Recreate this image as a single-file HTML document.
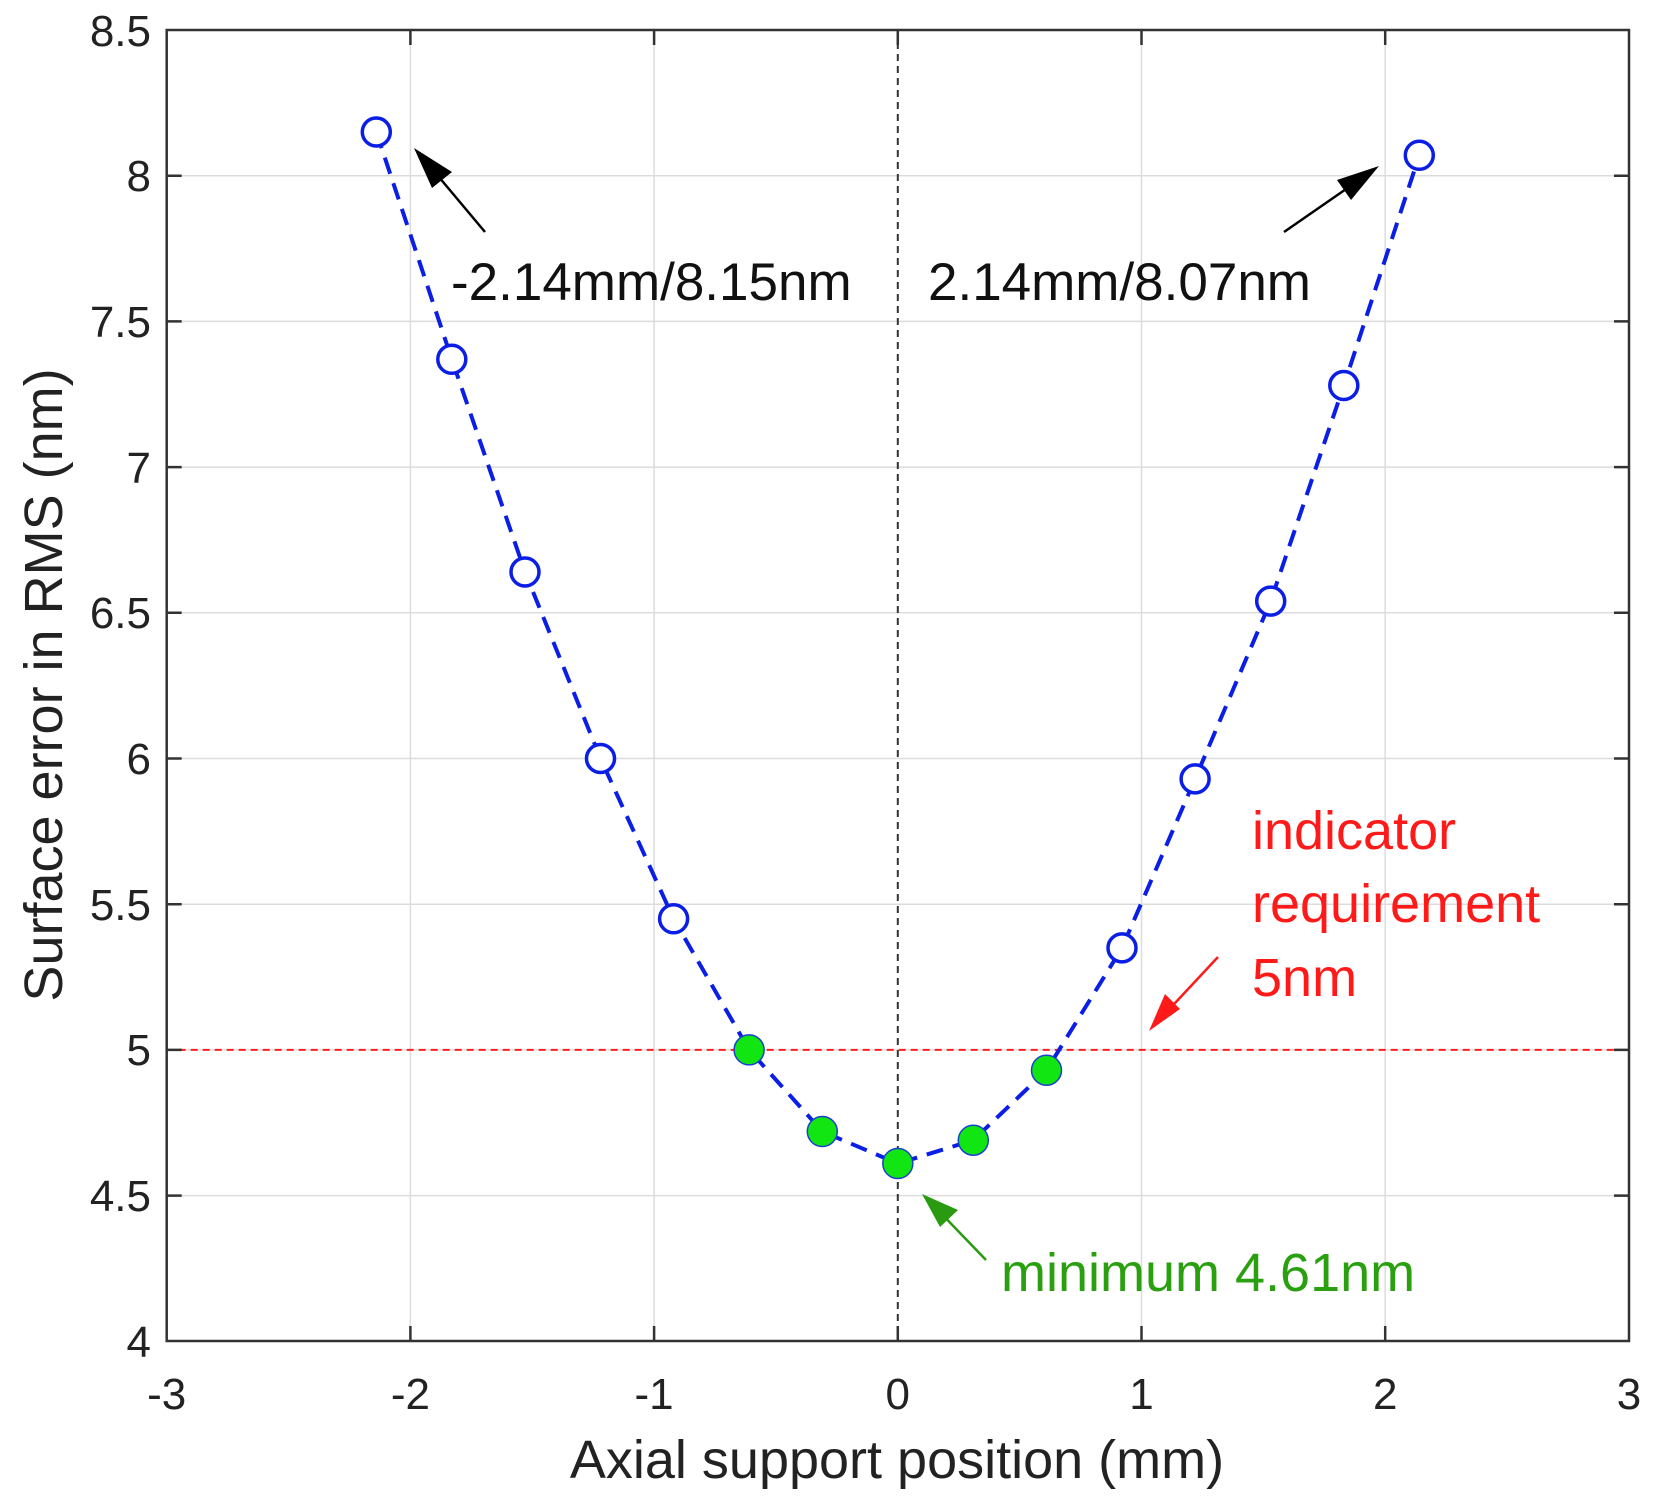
<!DOCTYPE html>
<html><head><meta charset="utf-8"><style>html,body{margin:0;padding:0;background:#fff}svg{display:block}text{font-family:"Liberation Sans",Arial,sans-serif}</style></head><body>
<svg width="1653" height="1510" viewBox="0 0 1653 1510" xmlns="http://www.w3.org/2000/svg">
<rect width="1653" height="1510" fill="#fff"/>
<g stroke="#dcdcdc" stroke-width="1.5">
<line x1="410.4" y1="30" x2="410.4" y2="1341"/><line x1="654.1" y1="30" x2="654.1" y2="1341"/><line x1="1141.5" y1="30" x2="1141.5" y2="1341"/><line x1="1385.2" y1="30" x2="1385.2" y2="1341"/>
<line x1="166.7" y1="175.7" x2="1629" y2="175.7"/><line x1="166.7" y1="321.4" x2="1629" y2="321.4"/><line x1="166.7" y1="467.1" x2="1629" y2="467.1"/><line x1="166.7" y1="612.8" x2="1629" y2="612.8"/><line x1="166.7" y1="758.5" x2="1629" y2="758.5"/><line x1="166.7" y1="904.2" x2="1629" y2="904.2"/><line x1="166.7" y1="1049.9" x2="1629" y2="1049.9"/><line x1="166.7" y1="1195.6" x2="1629" y2="1195.6"/>
</g>
<line x1="897.8" y1="30" x2="897.8" y2="1341" stroke="#333" stroke-width="2" stroke-dasharray="7,5"/>
<line x1="166.7" y1="1049.9" x2="1629" y2="1049.9" stroke="#ff2020" stroke-width="2" stroke-dasharray="7,5"/>
<g stroke="#333" stroke-width="2.5">
<rect x="166.7" y="30" width="1462.3" height="1311" fill="none"/>
<path d="M410.4 1341v-15M654.1 1341v-15M897.8 1341v-15M1141.5 1341v-15M1385.2 1341v-15M410.4 30v15M654.1 30v15M897.8 30v15M1141.5 30v15M1385.2 30v15M166.7 175.7h15M166.7 321.4h15M166.7 467.1h15M166.7 612.8h15M166.7 758.5h15M166.7 904.2h15M166.7 1049.9h15M166.7 1195.6h15M1629 175.7h-15M1629 321.4h-15M1629 467.1h-15M1629 612.8h-15M1629 758.5h-15M1629 904.2h-15M1629 1049.9h-15M1629 1195.6h-15"/>
</g>
<g font-size="44" fill="#222" text-anchor="end">
<text x="151" y="46">8.5</text><text x="151" y="191">8</text><text x="151" y="337">7.5</text><text x="151" y="483">7</text><text x="151" y="628">6.5</text><text x="151" y="774">6</text><text x="151" y="920">5.5</text><text x="151" y="1065">5</text><text x="151" y="1211">4.5</text><text x="151" y="1357">4</text>
</g>
<g font-size="44" fill="#222" text-anchor="middle">
<text x="166.7" y="1409">-3</text><text x="410.4" y="1409">-2</text><text x="654.1" y="1409">-1</text><text x="897.8" y="1409">0</text><text x="1141.5" y="1409">1</text><text x="1385.2" y="1409">2</text><text x="1629" y="1409">3</text>
</g>
<text x="897" y="1478" font-size="54" fill="#222" text-anchor="middle">Axial support position (mm)</text>
<text transform="translate(62,685) rotate(-90)" font-size="54" fill="#222" text-anchor="middle">Surface error in RMS (nm)</text>
<polyline fill="none" stroke="#0a1ee6" stroke-width="4" stroke-dasharray="17,10" points="376.3,132 451.8,359.3 525,572 600.5,758.5 673.6,918.8 749.1,1049.9 822.3,1131.5 897.8,1163.5 973.3,1140.2 1046.5,1070.3 1122,947.9 1195.1,778.9 1270.7,601.1 1343.8,385.5 1419.3,155.3"/>
<g fill="#fff" stroke="#0a1ee6" stroke-width="3.5">
<circle cx="376.3" cy="132" r="14"/><circle cx="451.8" cy="359.3" r="14"/><circle cx="525" cy="572" r="14"/><circle cx="600.5" cy="758.5" r="14"/><circle cx="673.6" cy="918.8" r="14"/><circle cx="1122" cy="947.9" r="14"/><circle cx="1195.1" cy="778.9" r="14"/><circle cx="1270.7" cy="601.1" r="14"/><circle cx="1343.8" cy="385.5" r="14"/><circle cx="1419.3" cy="155.3" r="14"/>
</g>
<g fill="#12e612" stroke="#1a40d0" stroke-width="1.5">
<circle cx="749.1" cy="1049.9" r="15"/><circle cx="822.3" cy="1131.5" r="15"/><circle cx="897.8" cy="1163.5" r="15"/><circle cx="973.3" cy="1140.2" r="15"/><circle cx="1046.5" cy="1070.3" r="15"/>
</g>
<g stroke-width="2.5">
<line x1="485" y1="232" x2="428" y2="164" stroke="#000"/><polygon points="414,148 452,172 432,188" fill="#000"/>
<line x1="1284" y1="232" x2="1362" y2="178" stroke="#000"/><polygon points="1379,166 1351,200 1337,180" fill="#000"/>
<line x1="1218" y1="957" x2="1162" y2="1017" stroke="#ff1a1a"/><polygon points="1149,1031 1165,994 1180,1009" fill="#ff1a1a"/>
<line x1="986" y1="1260" x2="934" y2="1206" stroke="#2a9a10"/><polygon points="922,1194 958,1210 940,1227" fill="#2a9a10"/>
</g>
<text x="451" y="300" font-size="53" fill="#111">-2.14mm/8.15nm</text>
<text x="928" y="300" font-size="53" fill="#111">2.14mm/8.07nm</text>
<g font-size="54" fill="#ff1a1a"><text x="1252" y="849">indicator</text><text x="1252" y="922">requirement</text><text x="1252" y="996">5nm</text></g>
<text x="1001" y="1291" font-size="54" fill="#2aa010">minimum 4.61nm</text>
</svg>
</body></html>
